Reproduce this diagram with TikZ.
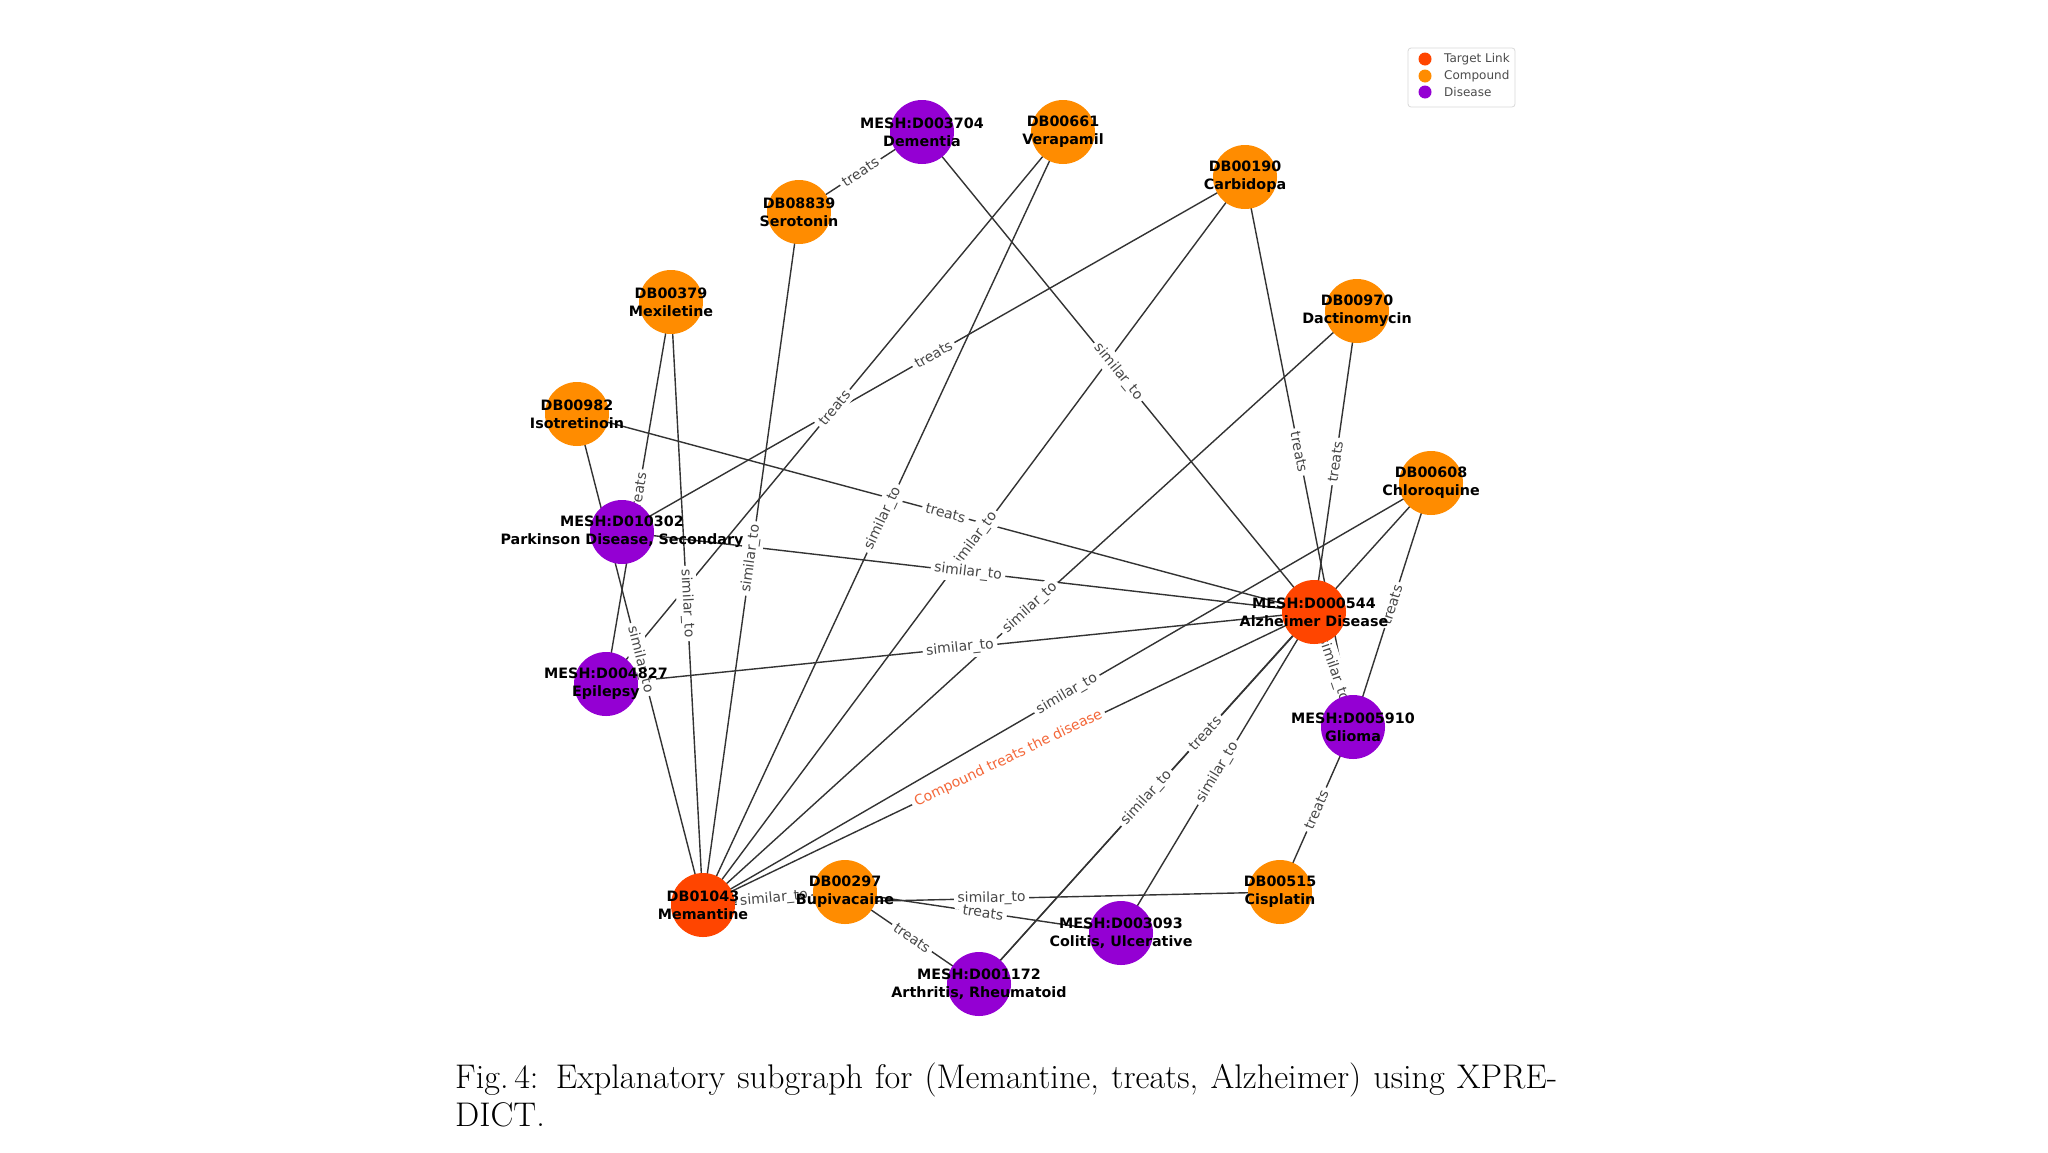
\documentclass[tikz,border=0pt]{standalone}
\usepackage{fontspec}
\newfontfamily\dvs{DejaVu Sans}
\definecolor{tlink}{HTML}{FF4500}
\definecolor{cmpd}{HTML}{FF8C00}
\definecolor{dise}{HTML}{9400D3}
\definecolor{hilite}{HTML}{F4683A}
\pgfdeclarelayer{bglayer}
\pgfdeclarelayer{edgelayer}
\pgfdeclarelayer{labellayer}
\pgfdeclarelayer{textlayer}
\pgfsetlayers{bglayer,edgelayer,labellayer,main,textlayer}
\tikzset{
  gnode/.style={circle, inner sep=0pt, minimum size=64pt, draw=none},
  tlnode/.style={gnode, fill=tlink},
  cpnode/.style={gnode, fill=cmpd},
  dsnode/.style={gnode, fill=dise},
  ntext/.style={font=\dvs\bfseries\fontsize{14.3}{18}\selectfont, align=center, inner sep=0pt, text=black},
  edgeline/.style={draw=black!80, line width=1.4pt},
  elabel/.style={font=\dvs\fontsize{14}{16}\selectfont, text=black!72, fill=white, rounded corners=3pt, inner sep=3.5pt, sloped, midway},
  legtext/.style={font=\dvs\fontsize{12}{14}\selectfont, text=black!70, anchor=west, inner sep=0pt},
  legdot/.style={circle, inner sep=0pt, minimum size=13pt, draw=none},
}
\begin{document}
\begin{tikzpicture}[x=1pt,y=-1pt]
\begin{pgfonlayer}{bglayer}
\fill[white] (0,0) rectangle (2048,1152);
\end{pgfonlayer}
\useasboundingbox (0,0) rectangle (2048,1152);

% graph nodes
\node[dsnode] (dem) at (922,132) {};
\node[cpnode] (ver) at (1063,132) {};
\node[cpnode] (car) at (1245,177) {};
\node[cpnode] (ser) at (799,212) {};
\node[cpnode] (mex) at (671,302) {};
\node[cpnode] (dac) at (1357,311) {};
\node[cpnode] (iso) at (577,414) {};
\node[cpnode] (chl) at (1431,483) {};
\node[dsnode] (par) at (622,532) {};
\node[tlnode] (alz) at (1314,612) {};
\node[dsnode] (epi) at (606,684) {};
\node[dsnode] (gli) at (1353,727) {};
\node[tlnode] (mem) at (703,905) {};
\node[cpnode] (bup) at (845,892) {};
\node[cpnode] (cis) at (1280,892) {};
\node[dsnode] (col) at (1121,933) {};
\node[dsnode] (art) at (979,984) {};

% node texts
\begin{pgfonlayer}{textlayer}
\node[ntext] (dem-t) at (dem) {MESH:D003704\\Dementia};
\node[ntext] (ver-t) at (ver) {DB00661\\Verapamil};
\node[ntext] (car-t) at (car) {DB00190\\Carbidopa};
\node[ntext] (ser-t) at (ser) {DB08839\\Serotonin};
\node[ntext] (mex-t) at (mex) {DB00379\\Mexiletine};
\node[ntext] (dac-t) at (dac) {DB00970\\Dactinomycin};
\node[ntext] (iso-t) at (iso) {DB00982\\Isotretinoin};
\node[ntext] (chl-t) at (chl) {DB00608\\Chloroquine};
\node[ntext] (par-t) at (par) {MESH:D010302\\Parkinson Disease, Secondary};
\node[ntext] (alz-t) at (alz) {MESH:D000544\\Alzheimer Disease};
\node[ntext] (epi-t) at (epi) {MESH:D004827\\Epilepsy};
\node[ntext] (gli-t) at (gli) {MESH:D005910\\Glioma};
\node[ntext] (mem-t) at (mem) {DB01043\\Memantine};
\node[ntext] (bup-t) at (bup) {DB00297\\Bupivacaine};
\node[ntext] (cis-t) at (cis) {DB00515\\Cisplatin};
\node[ntext] (col-t) at (col) {MESH:D003093\\Colitis, Ulcerative};
\node[ntext] (art-t) at (art) {MESH:D001172\\Arthritis, Rheumatoid};
\end{pgfonlayer}

% edges
\begin{pgfonlayer}{edgelayer}
\foreach \a/\b in {ser/dem, dem/alz, ver/mem, ver/epi, car/par, car/mem, car/gli,
  dac/alz, dac/mem, iso/mem, iso/alz, mex/epi, mex/mem, ser/mem, par/alz, epi/alz,
  chl/mem, chl/art, chl/gli, alz/gli, alz/col, alz/art, gli/cis, mem/bup, mem/cis,
  bup/col, bup/art, mem/alz}
  \draw[edgeline] (\a.center) -- (\b.center);
\end{pgfonlayer}

% edge labels
\begin{pgfonlayer}{labellayer}
\foreach \a/\b in {dem/alz, ver/mem, car/mem, dac/mem, iso/mem, mex/mem, ser/mem,
  par/alz, epi/alz, chl/mem, alz/gli, alz/col, alz/art, mem/bup, mem/cis}
  \path (\a.center) -- node[elabel] {similar\_to} (\b.center);
\foreach \a/\b in {ser/dem, ver/epi, car/par, car/gli, dac/alz, iso/alz, mex/epi,
  chl/art, chl/gli, gli/cis, bup/col, bup/art}
  \path (\a.center) -- node[elabel] {treats} (\b.center);
\path (mem.center) -- node[elabel, text=hilite] {Compound treats the disease} (alz.center);
\end{pgfonlayer}

% legend
\draw[draw=black!15, fill=white, rounded corners=3pt, line width=0.8pt] (1408,48) rectangle (1515,107);
\node[legdot, fill=tlink] (lg1) at (1425,59) {};
\node[legdot, fill=cmpd] (lg2) at (1425,76) {};
\node[legdot, fill=dise] (lg3) at (1425,92) {};
\node[legtext] (lt1) at (1444,59) {Target Link};
\node[legtext] (lt2) at (1444,76) {Compound};
\node[legtext] (lt3) at (1444,92) {Disease};

% caption
\node[anchor=base west, inner sep=0pt, font=\fontsize{34.2}{40}\selectfont] (cap1) at (455,1088)
  {\makebox[1102pt][s]{Fig.\,4: Explanatory subgraph for (Memantine, treats, Alzheimer) using XPRE-}};
\node[anchor=base west, inner sep=0pt, font=\fontsize{34.2}{40}\selectfont] (cap2) at (455,1126) {DICT.};
\end{tikzpicture}
\end{document}
